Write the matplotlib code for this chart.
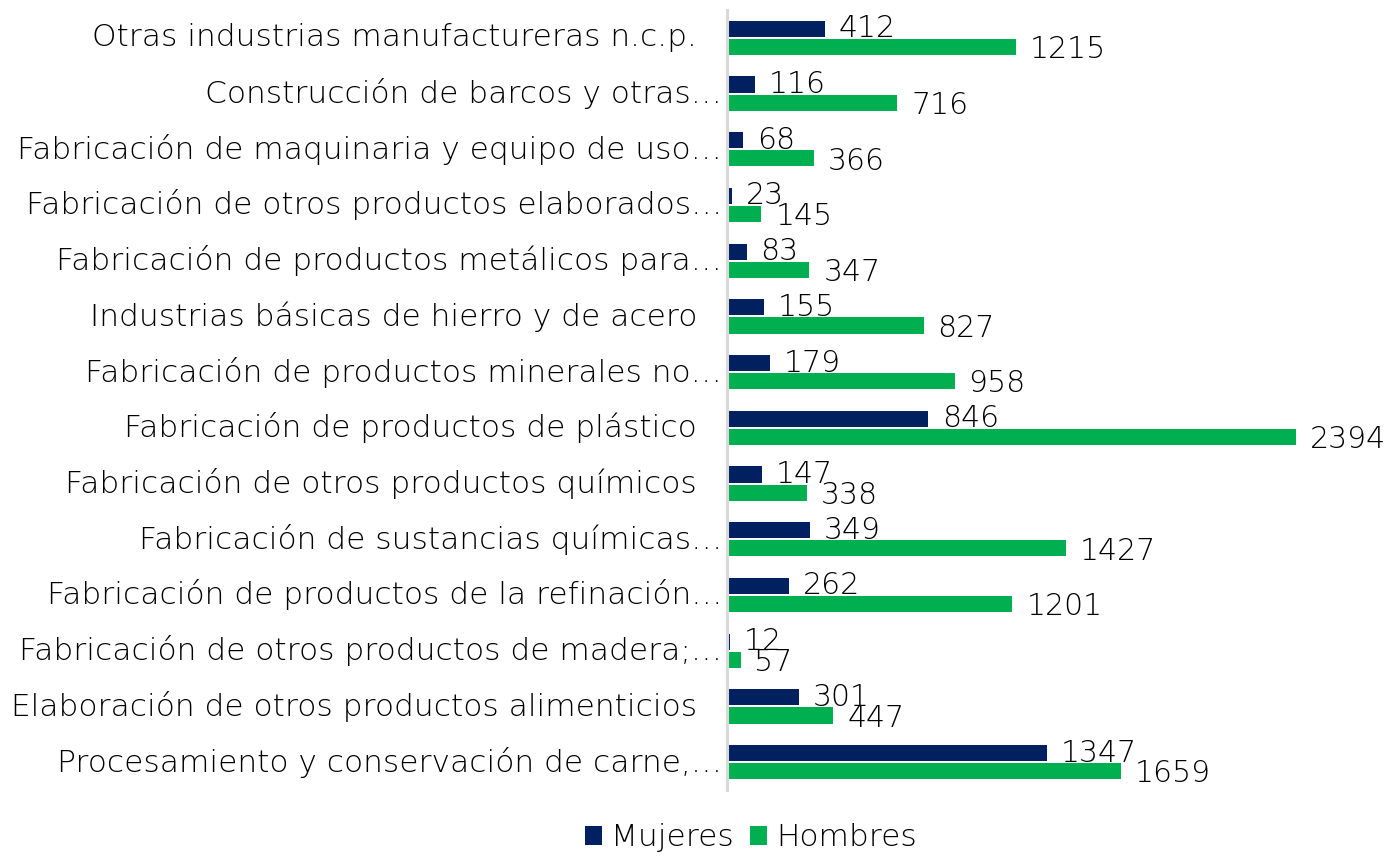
import matplotlib
matplotlib.use("Agg")
import matplotlib.pyplot as plt
import numpy as np

plt.rcParams["font.family"] = ["DejaVu Sans"]
plt.rcParams["font.weight"] = "light"

# categories listed bottom to top
categorias = [
    "Procesamiento y conservación de carne,…",
    "Elaboración de otros productos alimenticios",
    "Fabricación de otros productos de madera;…",
    "Fabricación de productos de la refinación…",
    "Fabricación de sustancias químicas…",
    "Fabricación de otros productos químicos",
    "Fabricación de productos de plástico",
    "Fabricación de productos minerales no…",
    "Industrias básicas de hierro y de acero",
    "Fabricación de productos metálicos para…",
    "Fabricación de otros productos elaborados…",
    "Fabricación de maquinaria y equipo de uso…",
    "Construcción de barcos y otras…",
    "Otras industrias manufactureras n.c.p.",
]
mujeres = [1347, 301, 12, 262, 349, 147, 846, 179, 155, 83, 23, 68, 116, 412]
hombres = [1659, 447, 57, 1201, 1427, 338, 2394, 958, 827, 347, 145, 366, 716, 1215]

navy = "#002060"
green = "#00B050"

fig = plt.figure(figsize=(13.86, 8.56), dpi=100)
ax = fig.add_axes([727 / 1386, 66 / 856, 603 / 1386, 780 / 856])

y = np.arange(len(categorias))
off = 0.162
h = 0.29
ax.barh(y + off, mujeres, height=h, color=navy, label="Mujeres")
ax.barh(y - off, hombres, height=h, color=green, label="Hombres")

fs = 22.5
vfs = 21.5
for yi, m, w in zip(y, mujeres, hombres):
    ax.annotate(str(m), (m, yi + off), xytext=(10, 0), textcoords="offset points",
                va="center", ha="left", fontsize=vfs, color="#000000", annotation_clip=False)
    ax.annotate(str(w), (w, yi - off), xytext=(10, -2), textcoords="offset points",
                va="center", ha="left", fontsize=vfs, color="#000000", annotation_clip=False)

# category labels; truncated ones sit closer to the axis
for yi, cat in zip(y, categorias):
    pad = -3.5 if cat.endswith("…") else -21.5
    ax.annotate(cat, (0, yi), xytext=(pad, 0), textcoords="offset points",
                va="center", ha="right", fontsize=fs, color="#000000", annotation_clip=False)

ax.set_xlim(0, 603 / 0.2377)
ax.set_ylim(-0.5, len(categorias) - 0.5)
ax.set_xticks([])
ax.set_yticks([])
for s in ["top", "right", "bottom"]:
    ax.spines[s].set_visible(False)
ax.spines["left"].set_color("#D9D9D9")
ax.spines["left"].set_linewidth(2.2)

fig.legend(loc="center", bbox_to_anchor=(751 / 1386, 1 - 838 / 856), ncol=2,
           frameon=False, fontsize=fs, handlelength=0.55, handleheight=0.55,
           columnspacing=0.5, handletextpad=0.3)

fig.savefig("out.png", dpi=100)
